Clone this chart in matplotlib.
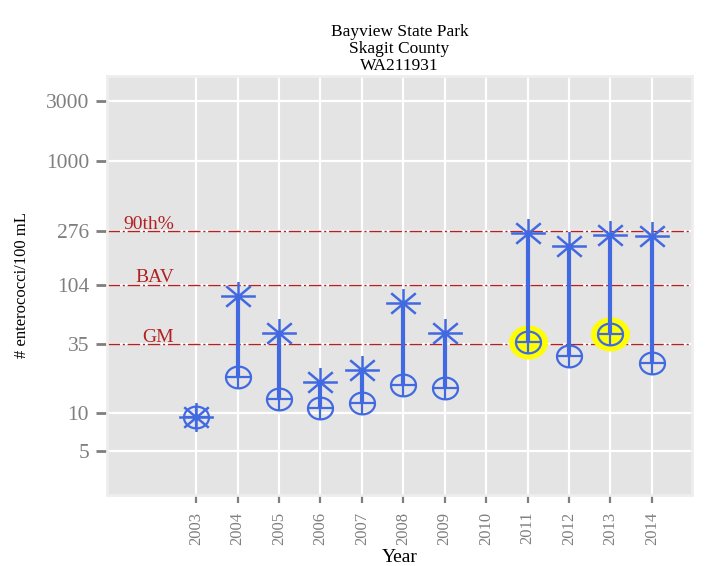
import numpy as np
import matplotlib.pyplot as plt
from matplotlib.path import Path

plt.rcParams['font.family'] = ['Liberation Serif', 'DejaVu Serif']

# data
years = [2003, 2004, 2005, 2006, 2007, 2008, 2009, 2011, 2012, 2013, 2014]
max_vals = [9.3, 85, 43, 17.6, 21.9, 75, 43, 267, 213, 259, 254]
gm_vals = [9.3, 19.3, 12.9, 11.0, 12.0, 16.7, 15.7, 36.4, 28.5, 42.2, 24.8]
tick_years = list(range(2003, 2015))
y_ticks = [5, 10, 35, 104, 276, 1000, 3000]
ref_vals = [276, 104, 35]
ref_labels = ['90th%', 'BAV', 'GM']
gm_limit = 35

blue = '#4169E1'
red = '#B22222'

# slightly wide markers (the original image is stretched sideways)
sx = 1.15
t = np.linspace(0, 2 * np.pi, 80)
ellipse = Path(np.column_stack([sx * np.cos(t), np.sin(t)]))
plus = Path([(-sx, 0), (sx, 0), (0, -1), (0, 1)],
            [Path.MOVETO, Path.LINETO, Path.MOVETO, Path.LINETO])
star_v, star_c = [], []
for a in np.arange(0, 360, 45):
    r = np.radians(a)
    star_v += [(0, 0), (1.2 * np.cos(r), np.sin(r))]
    star_c += [Path.MOVETO, Path.LINETO]
star = Path(star_v, star_c)

fig = plt.figure(figsize=(7.26, 5.66), dpi=100)
ax = fig.add_axes([0.1474, 0.1254, 0.8058, 0.7403])
ax.set_facecolor('#E4E4E4')
ax.set_yscale('log')
ax.set_xlim(2000.85, 2014.97)
ax.set_ylim(2.23, 4735)

ax.set_yticks(y_ticks)
ax.set_yticklabels([str(v) for v in y_ticks])
ax.minorticks_off()
ax.set_xticks(tick_years)
ax.set_xticklabels([str(y) for y in tick_years], rotation=90)
ax.grid(True, color='white', lw=1.6)
ax.set_axisbelow(True)
for s in ax.spines.values():
    s.set_color('#EEEEEE')
    s.set_linewidth(2)

ax.tick_params(axis='y', colors='#7F7F7F', labelsize=15.5, length=8, width=2, pad=5)
ax.tick_params(axis='x', colors='#7F7F7F', labelsize=12, length=6, width=1.6, pad=6)

# reference lines
for v, lbl in zip(ref_vals, ref_labels):
    ax.axhline(v, color=red, lw=1.0, ls=(0, (9, 2, 1.5, 2)), zorder=1.5)
    ax.annotate(lbl, xy=(2002.47, v), xytext=(0, 2), textcoords='offset points',
                ha='right', va='baseline', color=red, fontsize=14)

# highlight geometric means above the limit
hy = [y for y, g in zip(years, gm_vals) if g > gm_limit]
hg = [g for g in gm_vals if g > gm_limit]
ax.plot(hy, hg, ls='none', marker=ellipse, ms=27, mfc='yellow', mec='yellow', zorder=2)

ax.vlines(years, gm_vals, max_vals, color=blue, lw=3, zorder=3)
ax.plot(years, gm_vals, ls='none', marker=ellipse, ms=18, mfc='none', mec=blue, mew=1.6, zorder=4)
ax.plot(years, gm_vals, ls='none', marker=plus, ms=18, mfc='none', mec=blue, mew=1.6, zorder=4)
ax.plot(years, max_vals, ls='none', marker=star, ms=25, mfc='none', mec=blue, mew=1.8, zorder=4)

ax.set_title('Bayview State Park\nSkagit County\nWA211931', fontsize=12.5, pad=4, linespacing=1.1)
ax.set_xlabel('Year', fontsize=14)
ax.xaxis.set_label_coords(0.5, -0.128)
ax.set_ylabel('# enterococci/100 mL', fontsize=12, va='center')
ax.yaxis.set_label_coords(-0.145, 0.5)

fig.savefig('out.png', dpi=100)
